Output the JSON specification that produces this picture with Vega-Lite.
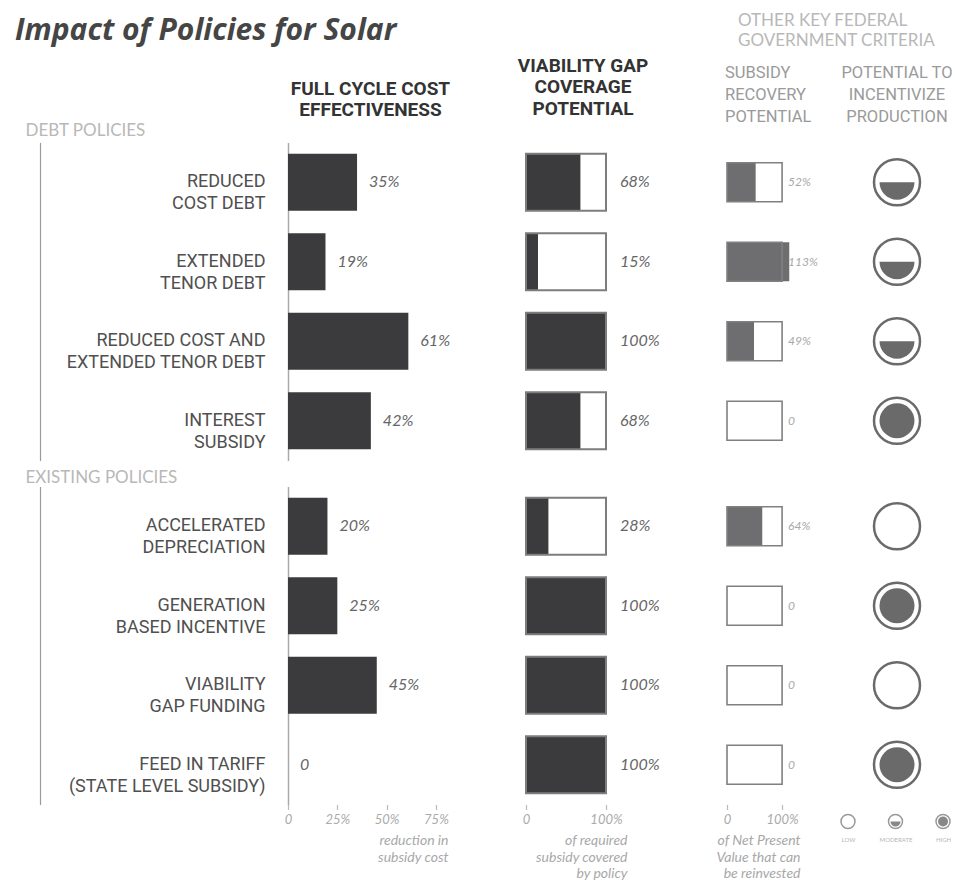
{
  "$schema": "https://vega.github.io/schema/vega-lite/v6.json",
  "background": "white",
  "autosize": {"type": "pad"},
  "padding": {"left": 15, "top": 11.5, "right": 0, "bottom": 0},
  "title": {"text": "Impact of Policies for Solar", "anchor": "start", "font": "Open Sans", "fontSize": 30, "fontStyle": "italic", "fontWeight": "bold", "color": "#454545", "dx": -10, "dy": 34, "offset": 0},
  "config": {"view": {"stroke": null}, "axis": {"grid": false}},
  "data": {"values": [
    {"section": "debt", "policy": "REDUCED|COST DEBT", "cost": 0.35, "gap": 0.68, "recovery": 0.52, "level": "moderate"},
    {"section": "debt", "policy": "EXTENDED|TENOR DEBT", "cost": 0.19, "gap": 0.15, "recovery": 1.13, "level": "moderate"},
    {"section": "debt", "policy": "REDUCED COST AND|EXTENDED TENOR DEBT", "cost": 0.61, "gap": 1.0, "recovery": 0.49, "level": "moderate"},
    {"section": "debt", "policy": "INTEREST|SUBSIDY", "cost": 0.42, "gap": 0.68, "recovery": 0, "level": "high"},
    {"section": "existing", "policy": "ACCELERATED|DEPRECIATION", "cost": 0.20, "gap": 0.28, "recovery": 0.64, "level": "low"},
    {"section": "existing", "policy": "GENERATION|BASED INCENTIVE", "cost": 0.25, "gap": 1.0, "recovery": 0, "level": "high"},
    {"section": "existing", "policy": "VIABILITY|GAP FUNDING", "cost": 0.45, "gap": 1.0, "recovery": 0, "level": "low"},
    {"section": "existing", "policy": "FEED IN TARIFF|(STATE LEVEL SUBSIDY)", "cost": 0, "gap": 1.0, "recovery": 0, "level": "high"}
  ]},
  "vconcat": [
    {
      "hconcat": [
        {
          "width": 217, "height": 318,
          "transform": [{"filter": "datum.section === 'debt'"}],
          "title": {"text": ["FULL CYCLE COST", "EFFECTIVENESS"], "frame": "group", "font": "Roboto", "fontSize": 19, "fontWeight": "bold", "color": "#333333", "lineHeight": 21, "dx": -26, "offset": 2},
          "layer": [
            {"mark": {"type": "bar", "color": "#3b3b3d"},
             "encoding": {
               "y": {"field": "policy", "type": "nominal", "sort": null, "scale": {"paddingInner": 0.28, "paddingOuter": 0.14},
                     "axis": {"orient": "left", "title": "DEBT POLICIES", "titleAngle": 0, "titleAlign": "left", "titleBaseline": "alphabetic", "titleX": -263, "titleY": -7, "titleFont": "Lato", "titleFontSize": 17, "titleFontWeight": "normal", "titleColor": "#b8b8b8", "labelExpr": "split(datum.label, '|')", "labelFont": "Roboto", "labelFontSize": 18, "labelLineHeight": 22, "labelColor": "#505050", "labelAlign": "right", "labelBaseline": "middle", "labelPadding": 23, "labelLimit": 300, "ticks": false, "domain": true, "domainColor": "#aaaaaa", "domainWidth": 1.5, "grid": false}},
               "x": {"field": "cost", "type": "quantitative", "scale": {"domain": [0, 1.1], "nice": false}, "axis": null}}},
            {"mark": {"type": "text", "align": "left", "baseline": "middle", "dx": 12, "font": "Lato", "fontStyle": "italic", "fontSize": 16, "color": "#666666"},
             "encoding": {
               "y": {"field": "policy", "type": "nominal", "sort": null, "axis": {"orient": "left", "offset": 248, "labels": false, "ticks": false, "title": null, "domain": true, "domainColor": "#9a9a9a", "domainWidth": 1.2, "grid": false}},
               "x": {"field": "cost", "type": "quantitative", "axis": null},
               "text": {"condition": {"test": "datum.cost === 0", "value": "0"}, "field": "cost", "format": ".0%"}}}
          ],
          "resolve": {"axis": {"y": "independent"}}
        },
        {
          "width": 180, "height": 318,
          "transform": [{"filter": "datum.section === 'debt'"}],
          "title": {"text": ["VIABILITY GAP", "COVERAGE", "POTENTIAL"], "frame": "group", "font": "Roboto", "fontSize": 19, "fontWeight": "bold", "color": "#333333", "lineHeight": 21.5, "dx": -33, "offset": 24},
          "encoding": {"y": {"field": "policy", "type": "nominal", "sort": null, "scale": {"paddingInner": 0.28, "paddingOuter": 0.14}, "axis": null}},
          "layer": [
            {"mark": {"type": "bar", "color": "#3b3b3d"}, "encoding": {"x": {"field": "gap", "type": "quantitative", "scale": {"domain": [0, 2.25], "nice": false}, "axis": null}}},
            {"mark": {"type": "bar", "filled": false, "color": "#7d7d7d", "strokeWidth": 2}, "encoding": {"x": {"datum": 1, "type": "quantitative", "axis": null}}},
            {"mark": {"type": "text", "align": "left", "baseline": "middle", "dx": 14, "font": "Lato", "fontStyle": "italic", "fontSize": 16, "color": "#666666"},
             "encoding": {"x": {"datum": 1, "type": "quantitative", "axis": null}, "text": {"field": "gap", "format": ".0%"}}}
          ]
        },
        {
          "hconcat": [
            {
              "width": 92, "height": 318,
              "transform": [{"filter": "datum.section === 'debt'"}],
              "title": {"text": ["SUBSIDY", "RECOVERY", "POTENTIAL"], "anchor": "start", "frame": "group", "font": "Roboto", "fontSize": 16.5, "fontWeight": "normal", "color": "#9a9a9a", "lineHeight": 22, "dx": -2, "offset": 17.5},
              "encoding": {"y": {"field": "policy", "type": "nominal", "sort": null, "scale": {"paddingInner": 0.28, "paddingOuter": 0.14}, "axis": null}},
              "layer": [
                {"mark": {"type": "bar", "color": "#6e6e70", "height": {"band": 0.68}}, "encoding": {"x": {"field": "recovery", "type": "quantitative", "scale": {"domain": [0, 1.67], "nice": false}, "axis": null}}},
                {"mark": {"type": "bar", "filled": false, "color": "#808080", "strokeWidth": 1.6, "height": {"band": 0.68}}, "encoding": {"x": {"datum": 1, "type": "quantitative", "axis": null}}},
                {"mark": {"type": "text", "align": "left", "baseline": "middle", "dx": 6, "font": "Lato", "fontStyle": "italic", "fontSize": 12, "color": "#a8a8a8"},
                 "encoding": {"x": {"datum": 1, "type": "quantitative", "axis": null}, "text": {"condition": {"test": "datum.recovery === 0", "value": "0"}, "field": "recovery", "format": ".0%"}}}
              ]
            },
            {
              "width": 114, "height": 318,
              "transform": [{"filter": "datum.section === 'debt'"}],
              "title": {"text": ["POTENTIAL TO", "INCENTIVIZE", "PRODUCTION"], "frame": "group", "font": "Roboto", "fontSize": 16.5, "fontWeight": "normal", "color": "#9a9a9a", "lineHeight": 22, "offset": 17.5},
              "encoding": {"y": {"field": "policy", "type": "nominal", "sort": null, "scale": {"paddingInner": 0.28, "paddingOuter": 0.14}, "axis": null}},
              "layer": [
                {"mark": {"type": "point", "shape": "circle", "filled": false, "size": 2116, "color": "#6a6a6a", "strokeWidth": 2.5, "opacity": 1}},
                {"transform": [{"filter": "datum.level === 'moderate'"}], "mark": {"type": "point", "shape": "M-1,0A1,1,0,0,0,1,0Z", "filled": true, "size": 1225, "color": "#6a6a6a", "opacity": 1}},
                {"transform": [{"filter": "datum.level === 'high'"}], "mark": {"type": "point", "shape": "circle", "filled": true, "size": 1225, "color": "#6a6a6a", "opacity": 1}}
              ]
            }
          ],
          "spacing": 21,
          "bounds": "flush",
          "title": {"text": ["OTHER KEY FEDERAL", "GOVERNMENT CRITERIA"], "anchor": "start", "frame": "group", "font": "Lato", "fontSize": 17, "fontWeight": "normal", "color": "#b8b8b8", "lineHeight": 20, "dx": 11, "offset": 15}
        }
      ],
      "spacing": 21,
      "bounds": "flush"
    },
    {
      "hconcat": [
        {
          "width": 217, "height": 318,
          "transform": [{"filter": "datum.section === 'existing'"}],
          "layer": [
            {"mark": {"type": "bar", "color": "#3b3b3d"},
             "encoding": {
               "y": {"field": "policy", "type": "nominal", "sort": null, "scale": {"paddingInner": 0.28, "paddingOuter": 0.14},
                     "axis": {"orient": "left", "title": "EXISTING POLICIES", "titleAngle": 0, "titleAlign": "left", "titleBaseline": "alphabetic", "titleX": -263, "titleY": -4, "titleFont": "Lato", "titleFontSize": 17, "titleFontWeight": "normal", "titleColor": "#b8b8b8", "labelExpr": "split(datum.label, '|')", "labelFont": "Roboto", "labelFontSize": 18, "labelLineHeight": 22, "labelColor": "#505050", "labelAlign": "right", "labelBaseline": "middle", "labelPadding": 23, "labelLimit": 300, "ticks": false, "domain": true, "domainColor": "#aaaaaa", "domainWidth": 1.5, "grid": false}},
               "x": {"field": "cost", "type": "quantitative", "scale": {"domain": [0, 1.1], "nice": false},
                     "axis": {"orient": "bottom", "values": [0, 0.25, 0.5, 0.75], "labelExpr": "datum.value === 0 ? '0' : format(datum.value, '.0%')", "domain": false, "ticks": true, "tickColor": "#bbbbbb", "tickSize": 5, "tickWidth": 1.2, "labelFont": "Lato", "labelFontStyle": "italic", "labelFontSize": 13, "labelColor": "#aaaaaa", "labelPadding": 4, "labelFlush": false, "labelOverlap": false, "grid": false, "title": ["reduction in", "subsidy cost"], "titleFont": "Lato", "titleFontStyle": "italic", "titleFontWeight": "normal", "titleFontSize": 14, "titleColor": "#a8a8a8", "titleLineHeight": 16.5, "titleAlign": "right", "titleBaseline": "alphabetic", "titleAngle": 0, "titleX": 160, "titleY": 40}}}},
            {"mark": {"type": "text", "align": "left", "baseline": "middle", "dx": 12, "font": "Lato", "fontStyle": "italic", "fontSize": 16, "color": "#666666"},
             "encoding": {
               "y": {"field": "policy", "type": "nominal", "sort": null, "axis": {"orient": "left", "offset": 248, "labels": false, "ticks": false, "title": null, "domain": true, "domainColor": "#9a9a9a", "domainWidth": 1.2, "grid": false}},
               "x": {"field": "cost", "type": "quantitative", "axis": null},
               "text": {"condition": {"test": "datum.cost === 0", "value": "0"}, "field": "cost", "format": ".0%"}}}
          ],
          "resolve": {"axis": {"y": "independent", "x": "independent"}}
        },
        {
          "width": 180, "height": 318,
          "transform": [{"filter": "datum.section === 'existing'"}],
          "encoding": {"y": {"field": "policy", "type": "nominal", "sort": null, "scale": {"paddingInner": 0.28, "paddingOuter": 0.14}, "axis": null}},
          "layer": [
            {"mark": {"type": "bar", "color": "#3b3b3d"}, "encoding": {"x": {"field": "gap", "type": "quantitative", "scale": {"domain": [0, 2.25], "nice": false},
              "axis": {"orient": "bottom", "values": [0, 1], "labelExpr": "datum.value === 0 ? '0' : format(datum.value, '.0%')", "domain": false, "ticks": true, "tickColor": "#bbbbbb", "tickSize": 5, "tickWidth": 1.2, "labelFont": "Lato", "labelFontStyle": "italic", "labelFontSize": 13, "labelColor": "#aaaaaa", "labelPadding": 4, "labelFlush": false, "labelOverlap": false, "grid": false, "title": ["of required", "subsidy covered", "by policy"], "titleFont": "Lato", "titleFontStyle": "italic", "titleFontWeight": "normal", "titleFontSize": 14, "titleColor": "#a8a8a8", "titleLineHeight": 16.5, "titleAlign": "right", "titleBaseline": "alphabetic", "titleAngle": 0, "titleX": 101, "titleY": 40}}}},
            {"mark": {"type": "bar", "filled": false, "color": "#7d7d7d", "strokeWidth": 2}, "encoding": {"x": {"datum": 1, "type": "quantitative", "axis": null}}},
            {"mark": {"type": "text", "align": "left", "baseline": "middle", "dx": 14, "font": "Lato", "fontStyle": "italic", "fontSize": 16, "color": "#666666"},
             "encoding": {"x": {"datum": 1, "type": "quantitative", "axis": null}, "text": {"field": "gap", "format": ".0%"}}}
          ],
          "resolve": {"axis": {"x": "independent"}}
        },
        {
          "width": 92, "height": 318,
          "transform": [{"filter": "datum.section === 'existing'"}],
          "encoding": {"y": {"field": "policy", "type": "nominal", "sort": null, "scale": {"paddingInner": 0.28, "paddingOuter": 0.14}, "axis": null}},
          "layer": [
            {"mark": {"type": "bar", "color": "#6e6e70", "height": {"band": 0.68}}, "encoding": {"x": {"field": "recovery", "type": "quantitative", "scale": {"domain": [0, 1.67], "nice": false},
              "axis": {"orient": "bottom", "values": [0, 1], "labelExpr": "datum.value === 0 ? '0' : format(datum.value, '.0%')", "domain": false, "ticks": true, "tickColor": "#bbbbbb", "tickSize": 5, "tickWidth": 1.2, "labelFont": "Lato", "labelFontStyle": "italic", "labelFontSize": 13, "labelColor": "#aaaaaa", "labelPadding": 4, "labelFlush": false, "labelOverlap": false, "grid": false, "title": ["of Net Present", "Value that can", "be reinvested"], "titleFont": "Lato", "titleFontStyle": "italic", "titleFontWeight": "normal", "titleFontSize": 14, "titleColor": "#a8a8a8", "titleLineHeight": 16.5, "titleAlign": "right", "titleBaseline": "alphabetic", "titleAngle": 0, "titleX": 73, "titleY": 40}}}},
            {"mark": {"type": "bar", "filled": false, "color": "#808080", "strokeWidth": 1.6, "height": {"band": 0.68}}, "encoding": {"x": {"datum": 1, "type": "quantitative", "axis": null}}},
            {"mark": {"type": "text", "align": "left", "baseline": "middle", "dx": 6, "font": "Lato", "fontStyle": "italic", "fontSize": 12, "color": "#a8a8a8"},
             "encoding": {"x": {"datum": 1, "type": "quantitative", "axis": null}, "text": {"condition": {"test": "datum.recovery === 0", "value": "0"}, "field": "recovery", "format": ".0%"}}}
          ],
          "resolve": {"axis": {"x": "independent"}}
        },
        {
          "vconcat": [
            {
              "width": 114, "height": 318,
              "transform": [{"filter": "datum.section === 'existing'"}],
              "encoding": {"y": {"field": "policy", "type": "nominal", "sort": null, "scale": {"paddingInner": 0.28, "paddingOuter": 0.14}, "axis": null}},
              "layer": [
                {"mark": {"type": "point", "shape": "circle", "filled": false, "size": 2116, "color": "#6a6a6a", "strokeWidth": 2.5, "opacity": 1}},
                {"transform": [{"filter": "datum.level === 'moderate'"}], "mark": {"type": "point", "shape": "M-1,0A1,1,0,0,0,1,0Z", "filled": true, "size": 1225, "color": "#6a6a6a", "opacity": 1}},
                {"transform": [{"filter": "datum.level === 'high'"}], "mark": {"type": "point", "shape": "circle", "filled": true, "size": 1225, "color": "#6a6a6a", "opacity": 1}}
              ]
            },
            {
              "width": 111, "height": 18,
              "data": {"values": [{"level": "LOW"}, {"level": "MODERATE"}, {"level": "HIGH"}]},
              "encoding": {"x": {"field": "level", "type": "nominal", "sort": null, "scale": {"type": "point", "padding": 0.168},
                "axis": {"orient": "bottom", "labelFont": "Lato", "labelFontSize": 6, "labelColor": "#b5b5b5", "ticks": false, "domain": false, "title": null, "labelPadding": 6, "labelAngle": 0, "grid": false}}},
              "layer": [
                {"mark": {"type": "point", "shape": "circle", "filled": false, "size": 196, "color": "#999999", "strokeWidth": 1.5, "opacity": 1}},
                {"transform": [{"filter": "datum.level === 'MODERATE'"}], "mark": {"type": "point", "shape": "M-1,0A1,1,0,0,0,1,0Z", "filled": true, "size": 100, "color": "#888888", "opacity": 1}},
                {"transform": [{"filter": "datum.level === 'HIGH'"}], "mark": {"type": "point", "shape": "circle", "filled": true, "size": 100, "color": "#888888", "opacity": 1}}
              ]
            }
          ],
          "spacing": 8,
          "bounds": "flush"
        }
      ],
      "spacing": 21,
      "bounds": "flush"
    }
  ],
  "spacing": 8,
  "bounds": "full"
}
